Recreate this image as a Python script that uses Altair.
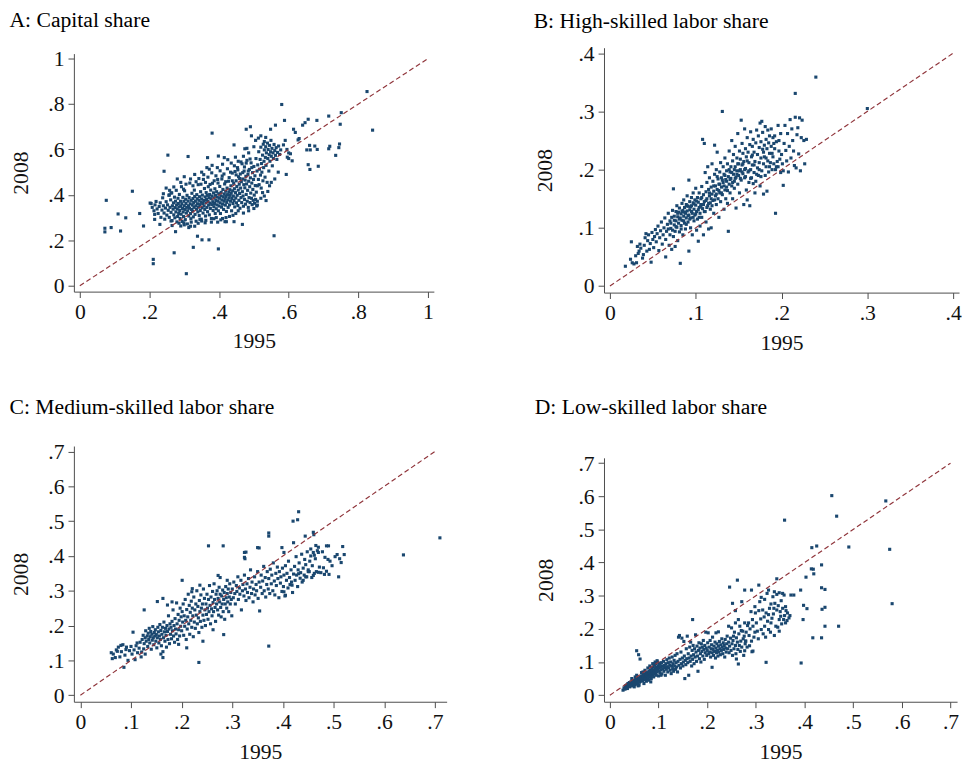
import altair as alt
import pandas as pd

# ---------------- data (1995 value, 2008 value) ----------------
capital = [
(.076,.376),(.072,.253),(.072,.237),(.090,.256),(.110,.316),(.117,.241),(.132,.299),(.151,.416),(.172,.318),(.183,.263),
(.211,.116),(.211,.097),(.242,.504),(.253,.575),(.311,.569),(.271,.145),(.275,.238),(.306,.053),(.326,.169),(.338,.218),
(.351,.202),(.371,.202),(.398,.162),(.380,.672),(.443,.620),(.558,.220),(.580,.798),(.588,.728),(.825,.855),(.841,.685),
(.751,.762),(.748,.711),(.715,.747),(.681,.728),(.656,.733),(.647,.718),(.640,.707),(.614,.689),(.619,.675),(.746,.624),
(.744,.608),(.718,.614),(.715,.603),(.735,.574),(.660,.618),(.675,.615),(.662,.598),(.682,.600),(.652,.598),(.656,.533),
(.661,.512),(.685,.526),(.627,.642),(.630,.648),(.596,.566),(.605,.581),(.600,.585),(.593,.490),(.548,.689),(.562,.707),
(.490,.700),(.478,.689),(.493,.660),(.480,.605),(.474,.603),(.534,.653),(.530,.635),(.415,.564),(.398,.571),(.367,.564),
(.417,.282),(.421,.282),(.443,.282),(.467,.270),(.396,.280),(.360,.277),
(.205,.362),(.208,.345),(.213,.330),(.216,.356),(.219,.371),(.222,.338),(.225,.318),(.228,.349),(.231,.365),(.233,.301),
(.236,.333),(.238,.387),(.240,.352),(.242,.320),(.244,.293),(.246,.342),(.248,.370),(.250,.311),(.252,.356),(.254,.332),
(.256,.398),(.257,.301),(.259,.345),(.261,.378),(.262,.323),(.264,.409),(.265,.287),(.266,.352),(.268,.337),(.269,.365),
(.270,.312),(.272,.390),(.273,.299),(.274,.344),(.275,.372),(.276,.325),(.277,.420),(.278,.356),(.279,.281),(.280,.338),
(.281,.305),(.282,.385),(.283,.362),(.284,.318),(.285,.347),
(.286,.402),(.287,.331),(.288,.296),(.289,.372),(.290,.350),(.291,.315),(.292,.436),(.293,.361),(.294,.283),(.295,.340),
(.296,.389),(.297,.325),(.298,.305),(.299,.372),(.300,.352),(.301,.418),(.302,.336),(.303,.291),(.304,.381),(.305,.362),
(.306,.320),(.307,.345),(.308,.398),(.309,.272),(.310,.330),(.311,.373),(.312,.352),(.313,.307),(.314,.388),(.315,.341),
(.316,.452),(.317,.361),(.318,.318),(.319,.295),(.320,.376),(.321,.336),(.322,.407),(.323,.355),(.324,.329),(.325,.384),
(.326,.303),(.327,.366),(.328,.345),(.329,.421),(.330,.393),(.331,.314),(.332,.372),(.333,.352),(.334,.284),(.335,.337),
(.336,.401),(.337,.383),(.338,.361),(.339,.325),(.340,.445),(.341,.346),(.342,.376),(.343,.309),(.344,.392),(.345,.357),
(.346,.331),(.347,.414),(.348,.368),(.349,.293),(.350,.382),(.351,.343),(.352,.399),(.353,.362),(.354,.320),(.355,.468),
(.356,.375),(.357,.351),(.358,.428),(.359,.336),(.360,.391),(.361,.307),(.362,.365),(.363,.410),(.364,.380),
(.365,.345),(.366,.398),(.367,.326),(.368,.372),(.369,.436),(.370,.355),(.371,.388),(.372,.312),(.373,.402),(.374,.364),
(.375,.340),(.376,.421),(.377,.383),(.378,.296),(.379,.357),(.380,.395),(.381,.451),(.382,.370),(.383,.331),(.384,.409),
(.385,.348),(.386,.386),(.387,.362),(.388,.427),(.389,.318),(.390,.398),(.391,.375),(.392,.339),(.393,.414),(.394,.356),
(.395,.390),(.396,.468),(.397,.372),(.398,.330),(.399,.405),(.400,.351),(.401,.385),(.402,.437),(.403,.365),(.404,.318),
(.405,.396),(.406,.411),(.407,.346),(.408,.378),(.409,.483),(.410,.359),(.411,.424),(.412,.392),(.413,.336),(.414,.372),
(.415,.404),(.416,.448),(.417,.381),(.418,.355),(.419,.416),(.420,.393),(.421,.327),(.422,.367),(.423,.430),(.424,.401),
(.425,.378),(.426,.345),(.427,.460),(.428,.412),(.429,.387),(.430,.356),(.431,.423),(.432,.398),(.433,.372),(.434,.440),
(.435,.408),(.436,.330),(.437,.384),(.438,.496),(.439,.418),(.440,.362),(.441,.395),(.442,.451),(.443,.375),(.444,.427),
(.445,.347),(.446,.503),(.447,.410),(.448,.386),(.449,.462),(.450,.365),(.451,.437),(.452,.398),(.453,.520),(.454,.353),
(.455,.421),(.456,.480),(.457,.376),(.458,.447),(.459,.406),(.460,.341),(.461,.492),(.462,.430),(.463,.388),(.464,.458),
(.465,.366),(.466,.537),(.467,.414),(.468,.470),(.469,.395),(.470,.350),(.471,.445),(.472,.505),(.473,.380),(.474,.431),
(.475,.465),(.476,.359),(.477,.482),(.478,.402),(.479,.448),(.480,.552),(.481,.372),(.482,.420),(.483,.490),(.484,.345),
(.485,.460),(.486,.388),(.487,.512),(.488,.436),(.489,.366),(.490,.475),(.491,.408),(.492,.541),(.493,.385),(.494,.452),
(.495,.357),(.496,.498),(.497,.424),(.498,.376),(.499,.468),(.500,.525),(.501,.399),(.502,.363),(.503,.484),(.504,.441),
(.505,.380),(.506,.560),(.507,.412),(.508,.351),(.509,.505),(.510,.372),
(.511,.532),(.513,.468),(.514,.590),(.515,.445),(.516,.513),(.518,.556),(.519,.487),(.520,.610),(.521,.430),(.522,.538),
(.523,.500),(.525,.575),(.526,.462),(.527,.623),(.528,.520),(.529,.548),(.530,.598),(.532,.478),(.533,.565),(.534,.612),
(.535,.530),(.536,.585),(.538,.455),(.539,.628),(.540,.560),(.541,.600),(.543,.505),(.544,.577),(.545,.618),(.546,.548),
(.548,.590),(.549,.640),(.550,.570),(.552,.605),(.553,.528),(.555,.585),(.556,.560),(.558,.622),(.560,.595),(.562,.574),
(.564,.608),(.566,.556),(.568,.587),(.571,.615),(.574,.578),(.577,.598),
(.215,.314),(.215,.292),(.202,.364),(.262,.408),(.290,.263),(.299,.277),(.313,.256),(.257,.400),(.230,.270),(.265,.265),
(.248,.430),(.280,.470),(.300,.480),(.330,.490),(.350,.500),(.365,.520),(.380,.530),(.372,.513),(.395,.520),(.410,.535),
(.425,.555),(.435,.540),(.447,.566),(.455,.548),(.470,.570),(.485,.585),(.500,.612),(.505,.640),(.513,.650),(.520,.660),
(.510,.440),(.525,.410),(.530,.395),(.520,.385),(.535,.375),(.540,.415),(.545,.440),(.550,.455),(.560,.470),(.570,.500),
(.455,.330),(.470,.320),(.485,.330),(.500,.340),(.510,.355),(.440,.310),(.420,.300),(.405,.290),(.385,.295),(.350,.285),
(.330,.262),(.340,.275),(.320,.280),(.600,.560),(.610,.550),(.585,.620),(.590,.640),(.595,.600),
(.334,.458),(.342,.472),(.348,.447),(.356,.489),(.361,.455),(.368,.478),(.374,.446),(.379,.497),(.386,.462),(.391,.484),
(.397,.452),(.403,.506),(.408,.470),(.414,.492),(.419,.458),(.424,.515),(.429,.476),(.433,.500),(.438,.462),(.444,.528),
(.449,.488),(.454,.510),(.459,.472),(.463,.545),(.468,.498),(.473,.523),(.478,.540),(.484,.505),(.489,.558),(.494,.520),
(.262,.285),(.285,.275),(.300,.268),(.318,.262),(.345,.292),(.362,.288),(.378,.280),(.392,.300),(.410,.296),(.430,.305),
(.448,.318),(.290,.455),(.305,.447),(.318,.470),(.325,.440),(.298,.425),(.270,.435),(.258,.420),(.240,.405),
]

high = [
(.018,.034),(.025,.076),(.024,.046),(.026,.040),(.028,.038),(.031,.040),(.030,.052),(.033,.056),(.034,.060),(.036,.065),
(.035,.072),(.038,.048),(.040,.070),(.041,.083),(.043,.060),(.044,.078),(.045,.088),(.047,.073),(.048,.041),(.049,.092),
(.050,.080),(.051,.066),(.052,.085),(.053,.097),(.046,.063),(.039,.054),(.032,.068),(.042,.090),
(.054,.076),(.055,.090),(.056,.103),(.057,.061),(.058,.083),(.059,.095),(.060,.110),(.061,.072),(.062,.088),(.063,.100),
(.064,.117),(.065,.050),(.065,.080),(.066,.094),(.067,.106),(.068,.125),(.069,.070),(.070,.088),(.070,.112),(.071,.099),
(.072,.118),(.072,.063),(.073,.130),(.074,.085),(.074,.167),(.075,.105),(.075,.120),(.076,.094),(.076,.068),(.077,.112),
(.077,.128),(.078,.101),(.078,.138),(.079,.119),(.079,.078),(.080,.108),(.080,.127),
(.081,.093),(.081,.134),(.082,.039),(.082,.117),(.083,.124),(.083,.104),(.084,.142),(.084,.113),(.085,.130),(.085,.088),
(.086,.120),(.086,.148),(.087,.108),(.087,.135),(.088,.125),(.088,.098),(.089,.140),(.089,.117),(.090,.155),(.090,.129),
(.091,.110),(.091,.137),(.092,.060),(.092,.122),(.092,.182),(.093,.145),(.093,.131),(.094,.100),(.094,.117),(.095,.152),
(.095,.138),(.096,.125),(.096,.088),(.097,.143),(.097,.160),(.098,.132),(.098,.112),(.099,.148),(.099,.122),(.100,.168),
(.100,.139),(.101,.096),(.101,.128),(.102,.152),(.102,.115),(.103,.077),(.103,.144),(.104,.135),(.104,.160),(.105,.103),
(.105,.125),(.106,.150),(.106,.140),(.107,.171),(.107,.118),(.108,.252),(.108,.133),(.109,.157),(.109,.088),(.110,.245),
(.110,.145),
(.111,.128),(.111,.195),(.112,.162),(.112,.110),(.113,.150),(.113,.178),(.114,.138),(.114,.205),(.115,.166),(.115,.098),
(.116,.155),(.116,.186),(.117,.143),(.117,.132),(.118,.100),(.118,.170),(.119,.158),(.119,.210),(.120,.147),(.120,.180),
(.121,.125),(.121,.163),(.122,.242),(.122,.192),(.123,.155),(.123,.172),(.124,.140),(.124,.200),(.125,.166),(.125,.230),
(.126,.150),(.126,.184),(.127,.175),(.127,.118),(.128,.160),(.128,.196),(.129,.212),(.129,.145),(.130,.170),(.130,.186),
(.131,.300),(.131,.157),(.132,.205),(.132,.178),(.133,.132),(.133,.192),(.134,.165),(.134,.220),(.135,.183),(.135,.150),
(.136,.198),(.136,.170),(.137,.210),(.137,.142),(.138,.188),(.138,.094),(.139,.175),(.139,.232),(.140,.196),
(.140,.160),(.141,.205),(.141,.185),(.142,.172),(.142,.250),(.143,.215),(.143,.150),(.144,.192),(.144,.226),(.145,.180),
(.145,.168),(.146,.205),(.146,.240),(.147,.187),(.147,.134),(.148,.220),(.148,.198),(.149,.175),(.149,.262),(.150,.210),
(.150,.190),(.151,.232),(.151,.160),(.152,.200),(.152,.218),(.153,.285),(.153,.182),(.154,.245),(.154,.208),(.155,.193),
(.155,.228),(.156,.140),(.156,.214),(.157,.270),(.157,.186),(.158,.236),(.158,.202),(.159,.165),(.159,.222),(.160,.148),
(.160,.255),(.161,.196),(.161,.230),(.162,.178),(.162,.212),(.163,.243),(.163,.138),(.164,.200),(.164,.265),(.165,.222),
(.165,.186),(.166,.240),(.166,.208),(.167,.176),(.167,.252),(.168,.195),(.168,.230),(.169,.214),(.169,.160),
(.170,.246),(.170,.180),(.171,.268),(.172,.203),(.172,.226),(.173,.258),(.173,.190),(.174,.238),(.174,.212),(.175,.172),
(.175,.280),(.176,.220),(.176,.248),(.177,.283),(.177,.198),(.178,.235),(.178,.264),(.179,.210),(.179,.158),(.180,.242),
(.180,.222),(.181,.190),(.181,.274),(.182,.252),(.182,.205),(.183,.236),(.183,.163),(.184,.268),(.184,.215),(.185,.246),
(.185,.196),(.186,.228),(.186,.258),(.187,.212),(.188,.240),(.188,.270),(.189,.200),(.190,.255),(.190,.222),(.191,.210),
(.192,.258),(.192,.236),(.193,.125),(.193,.200),(.194,.248),(.195,.214),(.196,.276),(.196,.205),(.197,.232),(.198,.218),
(.199,.262),(.199,.195),
(.200,.226),(.201,.210),(.202,.173),(.202,.198),(.203,.245),(.204,.276),(.205,.233),(.206,.215),(.207,.262),(.208,.196),
(.209,.240),(.210,.286),(.211,.220),(.212,.270),(.213,.250),(.214,.232),(.215,.207),(.216,.331),(.216,.290),(.217,.203),
(.218,.260),(.219,.272),(.220,.227),(.221,.289),(.222,.198),(.223,.255),(.224,.285),(.226,.250),(.227,.210),(.229,.252),
(.240,.359),(.300,.305),
(.068,.098),(.071,.108),(.073,.096),(.075,.113),(.077,.102),(.079,.125),(.081,.115),(.083,.098),(.084,.128),(.086,.112),
(.087,.127),(.089,.106),(.090,.138),(.091,.121),(.093,.115),(.094,.136),(.095,.128),(.097,.118),(.098,.141),(.100,.124),
(.101,.146),(.103,.131),(.104,.118),(.106,.137),(.107,.152),(.109,.140),(.110,.128),(.112,.147),(.113,.135),(.115,.142),
(.116,.160),(.118,.150),(.119,.138),(.121,.172),(.122,.148),(.124,.158),(.125,.188),(.127,.164),(.128,.175),(.130,.160),
(.131,.182),(.133,.172),(.134,.190),(.136,.180),(.137,.164),(.139,.200),(.140,.183),(.142,.195),(.143,.178),(.145,.200),
(.146,.185),(.148,.192),(.149,.210),(.151,.198),(.152,.185),(.154,.196),(.155,.210),(.157,.200),(.158,.188),(.160,.215),
(.162,.198),(.164,.185),(.166,.225),(.168,.208),(.171,.192),(.174,.200),(.176,.188),(.179,.230),(.182,.220),(.186,.205),
(.189,.228),(.191,.245),(.194,.205),(.197,.250),
]

medium = [
(.710,.452),(.638,.403),(.431,.527),(.429,.504),(.420,.500),(.372,.466),(.372,.457),(.253,.429),(.282,.429),(.372,.141),
(.234,.094),(.126,.245),(.086,.080),(.460,.468),(.461,.461),(.486,.429),(.490,.429),(.518,.427),(.521,.404),(.507,.404),
(.512,.392),(.515,.381),(.510,.340),(.491,.347),(.482,.347),(.327,.411),(.325,.392),(.353,.423),(.104,.181),(.061,.122),
(.063,.105),(.071,.130),(.075,.138),(.078,.110),(.081,.125),(.084,.145),(.088,.115),(.091,.138),(.094,.100),(.097,.128),
(.100,.140),(.102,.118),(.106,.130),(.110,.142),(.113,.122),(.116,.135),(.118,.152),(.120,.110),(.121,.124),(.065,.118),
(.069,.108),(.073,.126),(.080,.143),(.090,.131),(.108,.102),(.112,.150),(.125,.133),(.128,.118),
(.152,.269),(.163,.278),(.172,.259),(.181,.268),(.201,.330),(.221,.306),(.220,.297),(.236,.316),(.272,.344),(.276,.338),
(.290,.330),(.324,.410),(.324,.396),(.350,.424),(.398,.424),(.402,.410),(.421,.438),(.444,.457),(.470,.425),(.465,.430),
(.455,.420),(.462,.402),(.405,.287),(.402,.297),(.418,.316),(.431,.349),(.440,.330),(.450,.355),(.445,.340),(.460,.344),
(.470,.353),(.283,.174),(.262,.188),(.210,.136),(.194,.146),(.242,.155),(.163,.108),(.159,.118),
(.122,.160),(.124,.172),(.126,.148),(.128,.165),(.129,.185),(.130,.155),(.132,.170),(.133,.140),(.134,.178),(.135,.160),
(.136,.192),(.137,.150),(.138,.168),(.139,.183),(.140,.132),(.141,.175),(.142,.158),(.143,.197),(.144,.165),(.145,.145),
(.146,.180),(.147,.170),(.148,.188),(.149,.155),(.150,.174),(.151,.136),(.152,.165),(.153,.195),(.154,.182),(.155,.150),
(.156,.170),(.157,.203),(.158,.160),(.159,.186),(.160,.142),(.161,.175),(.162,.195),(.163,.125),(.164,.165),(.165,.210),
(.166,.182),(.167,.155),(.168,.192),(.169,.172),(.170,.138),(.171,.200),(.172,.183),(.173,.160),(.174,.228),(.175,.190),
(.176,.148),(.177,.205),(.178,.175),(.179,.195),(.180,.162),(.181,.212),(.182,.185),(.183,.245),(.184,.170),(.185,.200),
(.186,.152),(.187,.220),(.188,.190),(.189,.176),(.190,.265),(.191,.205),(.192,.160),(.193,.232),(.194,.188),(.195,.215),
(.196,.170),(.197,.250),(.198,.198),(.199,.225),
(.200,.185),(.201,.240),(.202,.210),(.203,.262),(.204,.172),(.205,.228),(.206,.198),(.207,.275),(.208,.215),(.209,.160),
(.210,.246),(.211,.190),(.212,.225),(.213,.290),(.214,.205),(.215,.258),(.216,.175),(.217,.238),(.218,.215),(.219,.270),
(.220,.195),(.221,.250),(.222,.228),(.223,.168),(.224,.282),(.225,.210),(.226,.245),(.227,.192),(.228,.262),(.229,.230),
(.230,.300),(.231,.205),(.232,.255),(.233,.222),(.234,.180),(.235,.272),(.236,.240),(.237,.212),(.238,.288),(.239,.250),
(.240,.195),(.241,.262),(.242,.230),(.243,.305),(.244,.215),(.245,.278),(.246,.245),(.247,.200),(.248,.262),(.249,.232),
(.250,.290),(.251,.250),(.252,.218),(.253,.275),(.254,.240),(.255,.315),(.256,.258),(.257,.205),(.258,.282),(.259,.248),
(.260,.228),(.261,.298),(.262,.266),(.263,.240),(.264,.320),(.265,.275),(.266,.252),(.267,.212),(.268,.290),(.269,.262),
(.270,.300),(.271,.245),(.272,.278),(.273,.230),(.274,.310),(.275,.268),(.276,.290),(.277,.252),(.278,.225),(.279,.285),
(.280,.262),(.281,.302),(.282,.240),(.283,.275),(.284,.295),(.285,.218),(.286,.262),(.287,.312),(.288,.280),(.289,.250),
(.290,.292),(.291,.268),(.292,.305),(.293,.240),(.294,.282),(.295,.320),(.296,.262),(.297,.295),(.298,.275),(.299,.228),
(.300,.305),(.302,.280),(.303,.325),(.305,.292),(.306,.262),(.308,.315),(.309,.298),(.311,.340),(.312,.275),(.314,.308),
(.315,.290),(.317,.330),(.318,.245),(.320,.300),(.321,.318),(.323,.285),(.324,.345),(.326,.305),(.327,.272),(.329,.320),
(.330,.295),(.332,.335),(.333,.280),(.335,.310),(.336,.360),(.338,.292),(.339,.325),(.341,.268),(.342,.305),(.344,.340),
(.345,.288),(.347,.318),(.348,.300),(.350,.355),(.351,.278),(.353,.325),(.354,.242),(.356,.310),(.357,.345),(.359,.292),
(.360,.328),(.362,.370),(.363,.300),(.365,.338),(.366,.282),(.368,.318),(.369,.355),(.371,.305),(.372,.335),(.374,.292),
(.375,.362),(.377,.320),(.378,.345),(.380,.300),(.381,.380),(.383,.328),(.384,.288),(.386,.350),(.387,.315),(.389,.368),
(.390,.335),(.392,.280),(.393,.355),(.395,.322),(.396,.340),(.398,.298),(.399,.365),(.401,.312),(.402,.345),(.404,.285),
(.405,.372),(.407,.330),(.408,.350),(.410,.308),(.411,.385),(.413,.338),(.414,.318),(.416,.360),(.417,.325),(.419,.295),
(.421,.348),(.423,.370),(.424,.330),(.426,.398),(.427,.345),(.429,.312),(.430,.360),(.432,.380),(.434,.336),(.435,.352),
(.437,.405),(.438,.325),(.440,.365),(.442,.345),(.443,.390),(.445,.375),(.447,.340),(.448,.412),(.450,.360),(.452,.355),
(.453,.385),(.455,.400),(.457,.338),(.458,.372),(.460,.410),(.462,.350),(.464,.392),(.466,.355),(.468,.415),(.470,.410),
(.472,.368),(.475,.352),(.478,.412),(.480,.366),(.483,.396),(.486,.356),(.489,.390),(.493,.385),(.497,.372),(.503,.398),
]

low = [
(.456,.602),(.466,.540),(.567,.586),(.359,.528),(.575,.440),(.491,.447),(.580,.276),(.415,.445),(.425,.450),(.414,.381),
(.419,.366),(.418,.380),(.435,.393),(.403,.356),(.435,.324),(.442,.319),(.436,.259),(.442,.265),(.398,.271),(.405,.261),
(.397,.228),(.442,.208),(.470,.208),(.417,.173),(.435,.173),(.393,.097),(.343,.351),(.262,.347),(.246,.326),(.306,.332),
(.291,.317),(.170,.228),(.055,.134),(.059,.122),(.062,.109),(.392,.317),(.372,.302),(.378,.302),(.264,.094),(.321,.099),
(.292,.131),(.271,.282),(.252,.277),(.258,.255),
(.027,.015),(.029,.022),(.031,.018),(.032,.028),(.034,.024),(.035,.031),(.036,.020),(.037,.035),(.038,.027),(.039,.032),
(.040,.038),(.041,.025),(.042,.034),(.043,.040),(.044,.030),(.045,.036),(.046,.028),(.046,.043),(.047,.033),(.048,.038),
(.049,.030),(.050,.045),(.050,.035),(.051,.040),(.052,.032),(.053,.047),(.053,.038),(.054,.043),(.055,.035),(.056,.050),
(.056,.040),(.057,.045),(.058,.037),(.059,.052),(.059,.042),(.060,.048),(.061,.039),(.062,.055),(.062,.045),(.063,.050),
(.064,.042),(.065,.058),(.065,.047),(.066,.053),(.067,.044),(.068,.060),(.068,.050),(.069,.056),(.070,.046),(.071,.063),
(.071,.053),(.072,.058),(.073,.049),(.074,.066),(.074,.055),(.075,.061),(.076,.050),(.077,.068),(.077,.057),(.078,.063),
(.079,.052),(.080,.072),(.080,.060),(.081,.066),(.082,.055),(.083,.075),(.083,.062),(.084,.069),(.085,.058),(.086,.080),
(.086,.065),(.087,.072),(.088,.061),(.089,.085),(.089,.068),(.090,.076),(.091,.064),(.092,.090),(.092,.072),(.093,.080),
(.094,.067),(.095,.095),(.095,.075),(.096,.084),(.097,.070),(.098,.100),(.098,.078),(.099,.088),(.100,.073),
(.045,.050),(.050,.025),(.055,.060),(.060,.030),(.065,.068),(.070,.035),(.072,.075),(.075,.042),(.078,.082),(.080,.045),
(.082,.088),(.085,.050),(.088,.095),(.090,.055),(.093,.100),(.095,.060),(.097,.104),(.100,.058),(.103,.095),(.105,.060),
(.052,.055),(.058,.028),(.068,.070),(.084,.040),(.091,.094),
(.101,.082),(.102,.094),(.103,.068),(.104,.086),(.105,.077),(.106,.098),(.107,.064),(.108,.088),(.109,.080),(.110,.102),
(.111,.072),(.112,.090),(.113,.083),(.114,.060),(.115,.095),(.116,.078),(.117,.107),(.118,.086),(.119,.070),(.120,.098),
(.121,.082),(.122,.112),(.123,.090),(.124,.075),(.125,.100),(.126,.065),(.127,.088),(.128,.115),(.129,.080),(.130,.095),
(.131,.072),(.132,.105),(.133,.088),(.134,.120),(.135,.078),(.136,.098),(.137,.085),(.138,.125),(.139,.070),(.140,.102),
(.141,.175),(.142,.090),(.143,.180),(.144,.108),(.145,.082),(.146,.130),(.147,.095),(.148,.172),(.149,.112),(.150,.088),
(.151,.100),(.152,.162),(.153,.118),(.154,.050),(.155,.105),(.156,.092),(.157,.140),(.158,.110),(.159,.178),(.160,.098),
(.161,.125),(.162,.060),(.163,.112),(.164,.145),(.165,.102),(.166,.160),(.167,.118),(.168,.088),(.169,.135),(.170,.108),
(.171,.150),(.172,.122),(.173,.095),(.174,.140),(.175,.115),(.176,.182),(.177,.130),(.178,.102),(.179,.148),(.180,.118),
(.181,.072),(.182,.135),(.183,.158),(.184,.110),(.185,.142),(.186,.125),(.187,.100),(.188,.155),(.189,.132),(.190,.145),
(.191,.118),(.192,.165),(.193,.138),(.194,.108),(.195,.150),(.196,.128),(.197,.190),(.198,.142),(.199,.120),
(.200,.135),(.201,.158),(.202,.188),(.203,.125),(.204,.145),(.205,.130),(.206,.165),(.207,.115),(.208,.140),(.209,.152),
(.210,.084),(.210,.128),(.211,.175),(.212,.138),(.213,.120),(.214,.148),(.215,.132),(.216,.160),(.217,.112),(.218,.188),
(.218,.142),(.219,.128),(.220,.155),(.221,.135),(.222,.118),(.223,.191),(.223,.148),(.224,.130),(.225,.162),(.226,.140),
(.227,.122),(.228,.152),(.229,.135),(.230,.170),(.231,.145),(.232,.125),(.233,.158),(.234,.138),(.235,.150),(.236,.115),
(.237,.168),(.238,.142),(.239,.130),(.240,.155),(.241,.178),(.242,.140),(.244,.208),(.244,.160),(.245,.128),(.246,.148),
(.248,.172),(.249,.135),(.250,.203),(.251,.155),(.252,.120),(.253,.165),(.254,.178),(.255,.140),(.256,.190),(.258,.218),
(.258,.150),(.259,.125),(.260,.173),(.260,.109),(.262,.160),(.263,.138),(.264,.228),(.265,.185),(.266,.150),(.267,.208),
(.268,.132),(.269,.163),(.270,.195),(.271,.145),(.273,.193),(.274,.170),(.275,.120),(.276,.178),(.277,.218),(.277,.134),
(.278,.155),(.279,.163),(.280,.190),(.282,.145),(.283,.210),
(.277,.317),(.298,.267),(.308,.282),(.311,.295),(.318,.289),(.323,.307),(.326,.317),(.331,.275),(.335,.297),(.338,.312),
(.343,.304),(.348,.309),(.355,.307),(.358,.302),(.339,.277),(.337,.262),(.343,.257),(.350,.252),(.355,.262),(.361,.267),
(.365,.248),(.359,.240),(.351,.238),(.348,.228),(.357,.228),(.368,.233),(.361,.218),(.348,.193),(.341,.208),(.331,.218),
(.324,.223),(.318,.208),(.326,.198),(.311,.198),(.301,.218),(.293,.228),(.285,.218),(.294,.208),(.303,.193),(.291,.163),
(.279,.163),(.287,.149),(.294,.133),(.299,.248),(.290,.252),(.306,.255),(.314,.257),(.321,.248),(.326,.243),(.333,.232),
(.286,.180),(.296,.175),(.305,.170),(.315,.185),(.320,.175),(.330,.190),(.338,.180),(.345,.205),(.353,.215),(.364,.225),
(.370,.240),(.288,.200),(.298,.190),(.310,.230),(.317,.236),(.328,.262),(.336,.245),(.346,.270),(.352,.285),(.362,.255),
]

titles = ["A: Capital share", "B: High-skilled labor share",
          "C: Medium-skilled labor share", "D: Low-skilled labor share"]
ticks_a = [0, 0.2, 0.4, 0.6, 0.8, 1]
ticks_b = [0, 0.1, 0.2, 0.3, 0.4]
ticks_cd = [0, 0.1, 0.2, 0.3, 0.4, 0.5, 0.6, 0.7]

# ---------------- style ----------------
FONT = "Liberation Serif"
FS = 22
NAVY = "#1a476f"
MAROON = "#90353b"
AX = "#4a4a4a"
LABEL_EXPR = "datum.value == 0 ? '0' : replace(format(datum.value, '.1~f'), '0.', '.')"


def panel(pts, maxv, ticks, xdom, ydom, w, h, title, toff, ytp, xtp):
    df = pd.DataFrame(pts, columns=["v1995", "v2008"])
    diag = pd.DataFrame({"v1995": [0, maxv], "v2008": [0, maxv]})
    common = dict(values=ticks, labelExpr=LABEL_EXPR, grid=False,
                  domainColor=AX, tickColor=AX, tickSize=6, tickWidth=1,
                  domainWidth=1, labelFont=FONT, labelFontSize=FS,
                  labelColor="#111111", titleFont=FONT, titleFontSize=FS,
                  titleFontWeight="normal", titleColor="#111111",
                  labelPadding=4, labelFlush=False, labelOverlap=False)
    xa = alt.Axis(title="1995", titlePadding=xtp, **common)
    ya = alt.Axis(title="2008", titlePadding=ytp, **common)
    xs = alt.Scale(domain=xdom, nice=False, zero=False)
    ys = alt.Scale(domain=ydom, nice=False, zero=False)
    dots = alt.Chart(df).mark_square(size=10, color=NAVY, opacity=1).encode(
        x=alt.X("v1995:Q", scale=xs, axis=xa),
        y=alt.Y("v2008:Q", scale=ys, axis=ya),
    )
    line = alt.Chart(diag).mark_line(color=MAROON, strokeDash=[5, 3],
                                     strokeWidth=1.2).encode(
        x=alt.X("v1995:Q", scale=xs, axis=xa),
        y=alt.Y("v2008:Q", scale=ys, axis=ya),
    )
    return alt.layer(dots, line).properties(
        width=w, height=h,
        title=alt.TitleParams(text=title, anchor="start", frame="bounds",
                              font=FONT, fontSize=FS, fontWeight="normal",
                              color="#000000", offset=toff),
    )


def spacer():
    # empty 1px view used only to let each column start from its title
    return alt.Chart(pd.DataFrame({"s": [0]})).mark_point(
        opacity=0, size=0, strokeWidth=0).encode(
        x=alt.value(0), y=alt.value(0)).properties(width=1, height=1)


pa = panel(capital, 1, ticks_a, [-0.017, 1.017], [-0.026, 1.022], 366, 242, titles[0], 16, 16, 9)
pb = panel(high, 0.4, ticks_b, [-0.0069, 0.4069], [-0.0113, 0.4095], 361, 249, titles[1], 10, 22, 10)
pc = panel(medium, 0.7, ticks_cd, [-0.0128, 0.7233], [-0.0189, 0.7158], 379, 260, titles[2], 22, 16, 10)
pd_ = panel(low, 0.7, ticks_cd, [-0.0121, 0.7135], [-0.0199, 0.716], 359, 248, titles[3], 34, 21, 10)

col1 = alt.vconcat(alt.vconcat(spacer(), pa, spacing=0), pc, spacing=45)
col2 = alt.vconcat(alt.vconcat(spacer(), pb, spacing=0), pd_, spacing=43)
chart = alt.hconcat(col1, col2, spacing=88).properties(
    padding={"left": 1, "top": -6, "right": 0, "bottom": 0},
    background="white",
).configure_view(stroke=None)

chart.save("out.html", embed_options={"renderer": "svg", "actions": False})
